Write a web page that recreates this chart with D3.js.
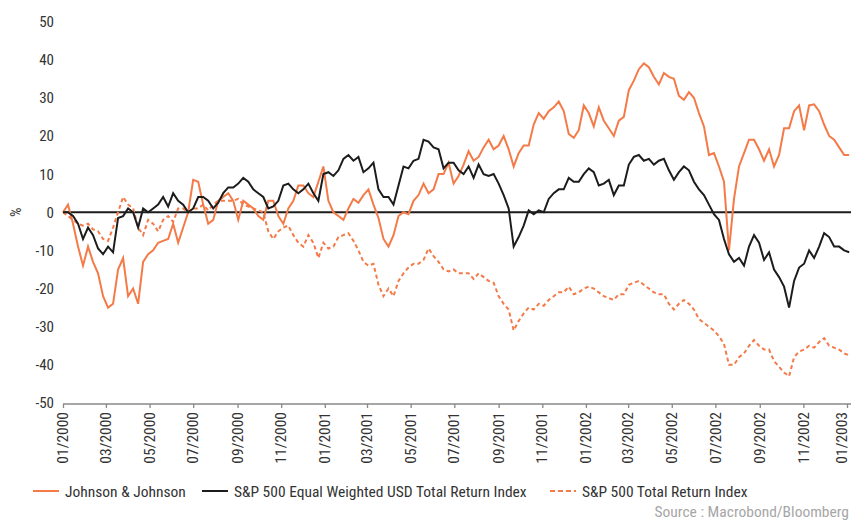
<!DOCTYPE html>
<html><head><meta charset="utf-8">
<script src="https://cdn.jsdelivr.net/npm/d3@7"></script>
<style>
body{margin:0;background:#fff;}
svg text{font-family:"Liberation Sans Narrow","Arial Narrow","Roboto Condensed","Liberation Sans",sans-serif;}
</style></head>
<body><svg id="c" width="851" height="520"></svg>
<script>
const startDate = "2000-01-01";
const weekCount = 158;
const jnj = [0,2,-3,-9,-14,-9,-13,-16,-22,-25,-24,-15,-12,-22,-20,-24,-13,-11,-10,-8,-7.5,-7,-3,-8,-4,0,8.5,8,2,-3,-2,3,4,5,3,-2,3,2,1,-1,-2,3,3,-1,-3,1,3,7,7,5,4,8,12,3,0,-1,-2,1,3.5,2.5,4.5,6,2,-1.5,-7,-9,-6,-1,0,-0.5,3,4.5,7.5,5,6,10,10,13,7.5,9.5,12.5,16,13.5,14.5,17,19,16.5,17.5,20,16.5,12,15.5,17.5,17.5,23,26,24.5,26.5,27.5,29,26.5,20.5,19.5,21.5,28,26,22.5,27.5,24,22,20,24,25,32,34.5,37.5,39,38,35.5,33.5,36.5,35.5,35,30.5,29.5,31.5,30,26,22.5,15,15.5,12,8,-10,3.5,12,15.5,19,19,16.5,13.5,16.5,12,15,22,22,26.5,28,21.5,28,28.3,26.5,23,20,19,17,15,15];
const spEqual = [0,0,-1,-3,-7,-4,-6,-9.5,-11,-9,-10.5,-1.5,-1,1,0,-4,1,0,1,2,4,1.5,5,3,2,0,1,4,4,3,1,2.5,5,6.5,6.5,7.5,9,8,6,5,4,1,1.5,3,7,7.5,6,5,6,7.5,5,3,10,10.5,9.5,11,14,15,13.5,14.5,10.5,11.5,13,6,4,4,2,7,12,11.5,13.5,14,19,18.5,17,16.5,11.5,13,13,11,10,12,9,12.5,10,9.5,10,7.5,4.5,1,-9,-6.5,-3.5,0.5,-0.5,0.5,0,3.5,5,6,6,9,8,8,10,11.5,10.5,7,7.5,8.5,4.5,7,7,12.5,14.5,15,13.5,14,12.5,13.5,14,11,8.5,10.5,12,11,8,6,4.5,2,-0.5,-2,-7,-11,-13,-12,-14,-9,-6,-8,-12.5,-10.5,-15,-17,-19.5,-25,-18,-14.5,-13.5,-10,-12,-9,-5.5,-6.5,-9,-9,-10,-10.5];
const spTotal = [0,-1,-2,-3,-3.5,-3,-4.5,-5,-7,-7.5,-4,0,4,2,1,-4,-6,-2,-3,-5,-2,-1,-2.5,1,1,0,1,1,2,0.5,2,3,3,3,3,3.5,2,1.5,1,0.5,0,-5,-7,-5,-4,-3.5,-6,-8,-9,-6,-8,-12,-8,-9.5,-9,-6.5,-6,-5.5,-7.5,-10,-13,-14,-13.5,-19,-22,-20,-22,-18,-16,-14.5,-13.5,-13.5,-12.5,-9.5,-11.5,-13,-15,-15.5,-15,-16,-16,-16,-17.5,-16,-17,-18,-18.5,-22,-24,-25.5,-31,-28.5,-26.5,-25,-25.5,-24,-24.5,-23,-22,-21,-21,-19.5,-21.5,-21,-20,-19.5,-20,-21,-22,-22.5,-23,-21.5,-21.5,-19,-18.5,-18,-19,-20,-21,-21.5,-21.5,-24,-25.5,-24,-23,-24,-25.5,-28,-29,-30,-31,-32.5,-34.5,-40,-40,-38,-37,-35,-33.5,-35,-36,-36,-39,-40.5,-42,-43,-38,-36.5,-36,-35,-35.5,-34,-33,-35,-35.5,-36,-37,-37.5];
const seriesNames = ["Johnson & Johnson","S&P 500 Equal Weighted USD Total Return Index","S&P 500 Total Return Index"];
const xTickLabels = ["01/2000","03/2000","05/2000","07/2000","09/2000","11/2000","01/2001","03/2001","05/2001","07/2001","09/2001","11/2001","01/2002","03/2002","05/2002","07/2002","09/2002","11/2002","01/2003"];
const yTicks = [-50,-40,-30,-20,-10,0,10,20,30,40,50];

const svg = d3.select("#c");
const parseDay = d3.timeParse("%Y-%m-%d");
const parseTick = d3.timeParse("%m/%Y");
const t0 = parseDay(startDate);
const dates = d3.range(weekCount).map(i => d3.timeDay.offset(t0, i * 7));

const x = d3.scaleTime().domain([t0, parseDay("2003-01-06")]).range([63, 850.6]);
const y = d3.scaleLinear().domain([-50, 50]).range([403, 21.5]);

const orange = "#f47a48", black = "#1c1c1c";

// y tick labels
svg.append("g").selectAll("text").data(yTicks).join("text")
  .attr("x", 54).attr("y", d => y(d)).attr("dy", "0.36em")
  .attr("text-anchor", "end").attr("font-size", 15).attr("fill", "#333")
  .text(d => d);
svg.append("text").attr("transform", `translate(21,${y(0)}) rotate(-90)`)
  .attr("text-anchor", "middle").attr("font-size", 15).attr("fill", "#333").text("%");

// x axis
const xAxis = d3.axisBottom(x)
  .tickValues(xTickLabels.map(s => parseTick(s)))
  .tickFormat(d3.timeFormat("%m/%Y"))
  .tickSizeOuter(0).tickSize(4);
const gx = svg.append("g").attr("transform", "translate(0,404)").call(xAxis);
gx.select(".domain").attr("stroke", "#888").attr("stroke-width", 1.3)
  .attr("d", "M63,0H851");
gx.selectAll(".tick line").attr("stroke", "#888").attr("stroke-width", 1.3);
gx.selectAll(".tick text")
  .attr("font-size", 15.5).attr("fill", "#333")
  .attr("transform", "rotate(-90)").attr("text-anchor", "end")
  .attr("x", -8).attr("y", (d, i, n) => i === n.length - 1 ? -5 : 0).attr("dy", "0.3em");
gx.attr("font-family", null);

// zero line
svg.append("line").attr("x1", 63).attr("x2", 851).attr("y1", y(0)).attr("y2", y(0))
  .attr("stroke", black).attr("stroke-width", 2);

const line = d3.line().x((d, i) => x(dates[i])).y(d => y(d));
svg.append("path").datum(spTotal).attr("d", line).attr("fill", "none")
  .attr("stroke", orange).attr("stroke-width", 2).attr("stroke-dasharray", "4,3");
svg.append("path").datum(jnj).attr("d", line).attr("fill", "none")
  .attr("stroke", orange).attr("stroke-width", 2);
svg.append("path").datum(spEqual).attr("d", line).attr("fill", "none")
  .attr("stroke", black).attr("stroke-width", 2);

// legend
const legend = [
  {name: seriesNames[0], color: orange, dash: null, x0: 33},
  {name: seriesNames[1], color: black, dash: null, x0: 202},
  {name: seriesNames[2], color: orange, dash: "5,3", x0: 550}
];
const lg = svg.append("g").selectAll("g").data(legend).join("g");
lg.append("line").attr("x1", d => d.x0).attr("x2", d => d.x0 + 26)
  .attr("y1", 491).attr("y2", 491).attr("stroke", d => d.color).attr("stroke-width", 2)
  .attr("stroke-dasharray", d => d.dash);
lg.append("text").attr("x", d => d.x0 + 32).attr("y", 491).attr("dy", "0.36em")
  .attr("font-size", 15.5).attr("fill", "#333").text(d => d.name);

svg.append("text").attr("x", 849).attr("y", 517).attr("text-anchor", "end")
  .attr("font-size", 15.5).attr("fill", "#a6a6a6")
  .text("Source : Macrobond/Bloomberg");
</script></body></html>
